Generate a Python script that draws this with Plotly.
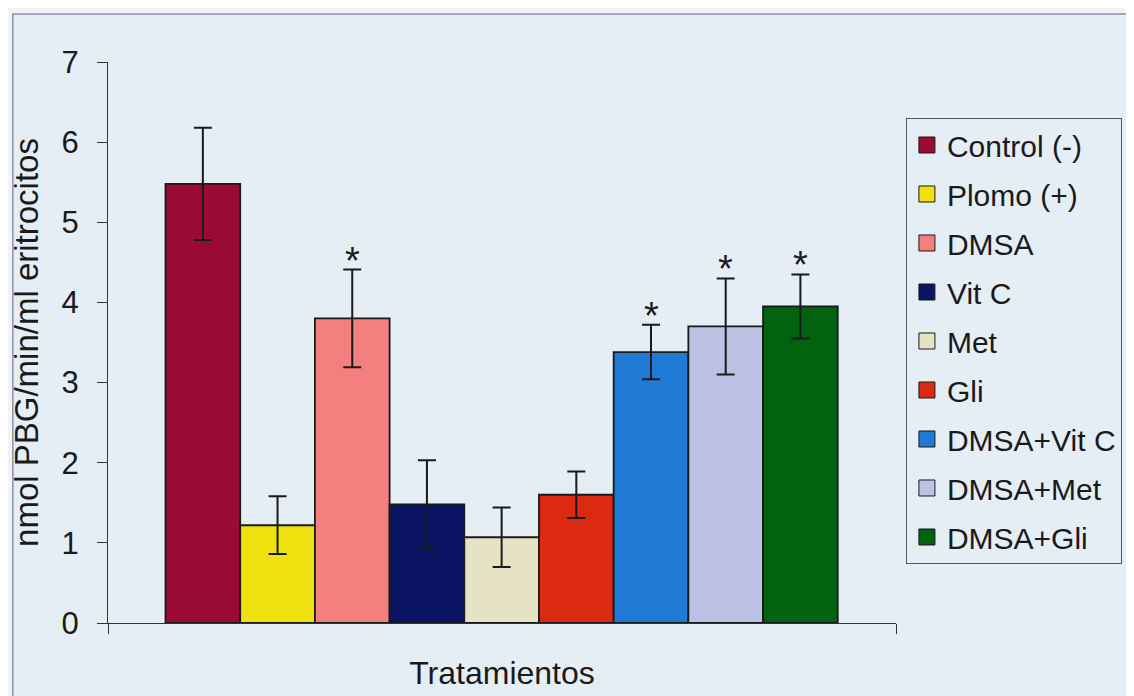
import plotly.graph_objects as go

# ---- data ----
treatments = ["Control (-)", "Plomo (+)", "DMSA", "Vit C", "Met", "Gli",
              "DMSA+Vit C", "DMSA+Met", "DMSA+Gli"]
means = [5.48, 1.22, 3.80, 1.48, 1.07, 1.60, 3.38, 3.70, 3.95]
errors = [0.70, 0.36, 0.61, 0.55, 0.37, 0.29, 0.34, 0.60, 0.40]
significant = [False, False, True, False, False, False, True, True, True]
bar_colors = ["#9b0a35", "#efe00f", "#f47f7f", "#0b1462", "#e5e2c6",
              "#dc2a12", "#1e7ad4", "#bcc2e6", "#02620f"]
y_ticks = [0, 1, 2, 3, 4, 5, 6, 7]
x_title = "Tratamientos"
y_title = "nmol PBG/min/ml eritrocitos"

FONT = "Liberation Sans, Arial, sans-serif"
BG = "#e5edf5"

fig = go.Figure()

for i, (name, m, e, c) in enumerate(zip(treatments, means, errors, bar_colors)):
    fig.add_trace(go.Bar(
        x=[i], y=[m], width=1.0, name=name, showlegend=False,
        marker=dict(color=c, line=dict(color="#1a1a1a", width=1.8)),
        error_y=dict(type="data", array=[e], visible=True,
                     color="#1a1a1a", thickness=2, width=9),
    ))
    # legend entry (square swatch)
    fig.add_trace(go.Scatter(
        x=[None], y=[None], mode="markers", name=name, legendgroup=name,
        marker=dict(symbol="square", size=16, color=c,
                    line=dict(color="#1a1a1a", width=1)),
    ))
    if significant[i]:
        fig.add_annotation(x=i, y=m + e, text="*", showarrow=False,
                           yanchor="bottom", yshift=-14,
                           font=dict(family=FONT, size=38, color="#1a1a1a"))

# the page adds an 8px body margin, so the figure is 8px smaller
fig.update_layout(
    width=1126, height=688,
    margin=dict(l=100, r=226, t=54, b=73),
    paper_bgcolor="#f3f3f3",
    plot_bgcolor="rgba(0,0,0,0)",
    barmode="overlay",
    font=dict(family=FONT, size=30, color="#1a1a1a"),
    showlegend=True,
    legend=dict(
        x=1.0126, y=0.9002, xanchor="left", yanchor="top",
        bordercolor="#555555", borderwidth=1, bgcolor="rgba(0,0,0,0)",
        font=dict(family=FONT, size=30, color="#1a1a1a"),
        tracegroupgap=7, itemwidth=30,
    ),
    shapes=[dict(type="rect", xref="paper", yref="paper",
                 x0=-0.1208, x1=1.3, y0=-0.2, y1=1.0856,
                 fillcolor=BG, line=dict(color="#8a93ad", width=1.5),
                 layer="below")],
)

fig.update_xaxes(
    range=[-1.27, 9.28], showgrid=False, zeroline=False,
    showline=True, linecolor="#333333", linewidth=1.2,
    tickmode="array", tickvals=[-1.27, 9.28], ticktext=["", ""],
    ticks="outside", ticklen=10, tickcolor="#333333",
    title=dict(text=x_title, standoff=22,
               font=dict(family=FONT, size=32, color="#1a1a1a")),
)
fig.update_yaxes(
    range=[0, 7], tickmode="array", tickvals=y_ticks,
    showgrid=False, zeroline=False,
    showline=True, linecolor="#333333", linewidth=1.2,
    ticks="outside", ticklen=10, tickcolor="#333333",
    ticklabelstandoff=12,
    tickfont=dict(family=FONT, size=31, color="#1a1a1a"),
    title=dict(text=y_title, standoff=12,
               font=dict(family=FONT, size=33, color="#1a1a1a")),
)

fig.write_html("out.html")
